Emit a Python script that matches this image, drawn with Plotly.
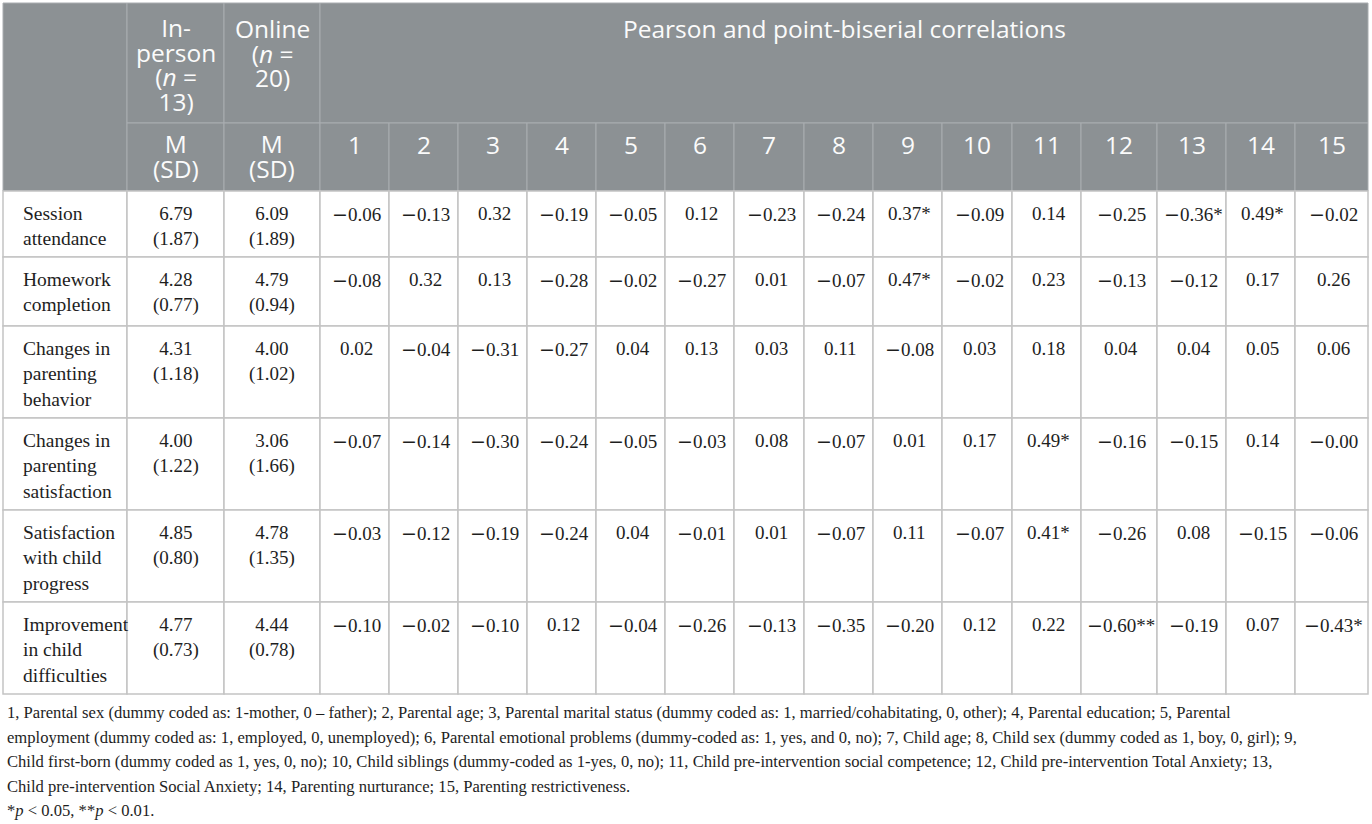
import plotly.graph_objects as go

outcomes = [
    "Session<br>attendance",
    "Homework<br>completion",
    "Changes in<br>parenting<br>behavior",
    "Changes in<br>parenting<br>satisfaction",
    "Satisfaction<br>with child<br>progress",
    "Improvement<br>in child<br>difficulties",
]
inperson_m = [6.79, 4.28, 4.31, 4.00, 4.85, 4.77]
inperson_sd = [1.87, 0.77, 1.18, 1.22, 0.80, 0.73]
online_m = [6.09, 4.79, 4.00, 3.06, 4.78, 4.44]
online_sd = [1.89, 0.94, 1.02, 1.66, 1.35, 0.78]

corr_labels = [str(i) for i in range(1, 16)]
corr = [
    [-0.06, -0.13, 0.32, -0.19, -0.05, 0.12, -0.23, -0.24, 0.37, -0.09, 0.14, -0.25, -0.36, 0.49, -0.02],
    [-0.08, 0.32, 0.13, -0.28, -0.02, -0.27, 0.01, -0.07, 0.47, -0.02, 0.23, -0.13, -0.12, 0.17, 0.26],
    [0.02, -0.04, -0.31, -0.27, 0.04, 0.13, 0.03, 0.11, -0.08, 0.03, 0.18, 0.04, 0.04, 0.05, 0.06],
    [-0.07, -0.14, -0.30, -0.24, -0.05, -0.03, 0.08, -0.07, 0.01, 0.17, 0.49, -0.16, -0.15, 0.14, -0.0],
    [-0.03, -0.12, -0.19, -0.24, 0.04, -0.01, 0.01, -0.07, 0.11, -0.07, 0.41, -0.26, 0.08, -0.15, -0.06],
    [-0.10, -0.02, -0.10, 0.12, -0.04, -0.26, -0.13, -0.35, -0.20, 0.12, 0.22, -0.60, -0.19, 0.07, -0.43],
]
# (row, column, mark)
signif = [(0, 8, "*"), (0, 12, "*"), (0, 13, "*"), (1, 8, "*"),
          (3, 10, "*"), (4, 10, "*"), (5, 11, "**"), (5, 14, "*")]

head_inperson = ["In-", "person", "(<i>n</i> =", "13)"]
head_online = ["Online", "(<i>n</i> =", "20)"]
head_corr = ["Pearson and point-biserial correlations"]
head_stat = ["M", "(SD)"]

notes = [
    "1, Parental sex (dummy coded as: 1-mother, 0 \u2013 father); 2, Parental age; 3, Parental marital status (dummy coded as: 1, married/cohabitating, 0, other); 4, Parental education; 5, Parental",
    "employment (dummy coded as: 1, employed, 0, unemployed); 6, Parental emotional problems (dummy-coded as: 1, yes, and 0, no); 7, Child age; 8, Child sex (dummy coded as 1, boy, 0, girl); 9,",
    "Child first-born (dummy coded as 1, yes, 0, no); 10, Child siblings (dummy-coded as 1-yes, 0, no); 11, Child pre-intervention social competence; 12, Child pre-intervention Total Anxiety; 13,",
    "Child pre-intervention Social Anxiety; 14, Parenting nurturance; 15, Parenting restrictiveness.",
    "*<i>p</i> < 0.05, **<i>p</i> < 0.01.",
]

# ---- layout (pixels) ----
W, H = 1372, 824
col_edges = [3, 127, 224, 320, 389, 458, 527, 596, 665, 734, 804, 873, 942,
             1012, 1081, 1157, 1226, 1295, 1368]
head_edges = [3, 123, 191]
row_edges = [191, 257, 326, 418, 510, 602, 694]
note_y = [701, 726, 750, 775, 799]
HEAD_LH = 24.5          # header leading is tighter than plotly's 1.3em
HEAD_SIZE = 24.5

HEAD_BG = "#8c9194"
HEAD_LINE = "#a9adb0"
BODY_LINE = "#c4c4c4"
TEXT = "#1e1e1e"
SANS = "Open Sans"
SERIF = "Liberation Serif"
MINUS = "<span style='font-family:DejaVu Serif'>\u2212</span>"


def fmt(v):
    s = f"{v:.2f}"
    return s.replace("-", MINUS)


shapes = []
annotations = []


def cell(x0, x1, y0, y1, fill, line, lw):
    shapes.append(dict(type="rect", xref="x", yref="y", x0=x0, x1=x1, y0=y0, y1=y1,
                       fillcolor=fill, line=dict(color=line, width=lw), layer="above"))


def text(x, y, s, font, anchor="center", size=19, color=TEXT, yanchor="top"):
    annotations.append(dict(x=x, y=y, xref="x", yref="y", text=s, showarrow=False,
                            xanchor=anchor, yanchor=yanchor, align=anchor,
                            font=dict(family=font, size=size, color=color)))


def head_block(xc, y_first, lines):
    # base size sets the line step, the span sets the glyph size
    body = "<br>".join(f"<span style='font-size:{HEAD_SIZE}px'>{s}</span>" for s in lines)
    yc = y_first + (len(lines) - 1) * HEAD_LH / 2
    text(xc, yc, body, SANS, size=HEAD_LH / 1.3, color="#fbfbfb", yanchor="middle")


# header
cell(col_edges[0], col_edges[1], head_edges[0], head_edges[2], HEAD_BG, HEAD_LINE, 1)
cell(col_edges[1], col_edges[2], head_edges[0], head_edges[1], HEAD_BG, HEAD_LINE, 1)
cell(col_edges[2], col_edges[3], head_edges[0], head_edges[1], HEAD_BG, HEAD_LINE, 1)
cell(col_edges[3], col_edges[-1], head_edges[0], head_edges[1], HEAD_BG, HEAD_LINE, 1)
for j in range(1, len(col_edges) - 1):
    cell(col_edges[j], col_edges[j + 1], head_edges[1], head_edges[2], HEAD_BG, HEAD_LINE, 1)

hy = head_edges[0] + 25
head_block((col_edges[1] + col_edges[2]) / 2, hy, head_inperson)
head_block((col_edges[2] + col_edges[3]) / 2, hy, head_online)
head_block((col_edges[3] + col_edges[-1]) / 2, hy, head_corr)
hy2 = head_edges[1] + 21
for j in range(2):
    head_block((col_edges[j + 1] + col_edges[j + 2]) / 2, hy2, head_stat)
for k, lab in enumerate(corr_labels):
    head_block((col_edges[k + 3] + col_edges[k + 4]) / 2, hy2, [lab])

# body
marks = {(r, c): m for r, c, m in signif}
for i, name in enumerate(outcomes):
    y0, y1 = row_edges[i], row_edges[i + 1]
    for j in range(len(col_edges) - 1):
        cell(col_edges[j], col_edges[j + 1], y0, y1, "white", BODY_LINE, 1.5)
    ty = y0 + 10
    text(col_edges[0] + 18, ty, name, SERIF, anchor="left", size=19.5)
    text((col_edges[1] + col_edges[2]) / 2, ty,
         f"{inperson_m[i]:.2f}<br>({inperson_sd[i]:.2f})", SERIF)
    text((col_edges[2] + col_edges[3]) / 2, ty,
         f"{online_m[i]:.2f}<br>({online_sd[i]:.2f})", SERIF)
    for k, v in enumerate(corr[i]):
        text((col_edges[k + 3] + col_edges[k + 4]) / 2 + 2, ty,
             fmt(v) + marks.get((i, k), ""), SERIF)

# footnotes
for line, y in zip(notes, note_y):
    text(5, y, line, SERIF, anchor="left", size=16.6)

fig = go.Figure(go.Scatter(x=[0], y=[0], mode="markers", marker=dict(opacity=0),
                           hoverinfo="skip", showlegend=False))
fig.update_layout(
    width=W, height=H,
    margin=dict(l=0, r=0, t=0, b=0),
    paper_bgcolor="white", plot_bgcolor="white",
    xaxis=dict(range=[0, W], visible=False, fixedrange=True),
    yaxis=dict(range=[H, 0], visible=False, fixedrange=True),
    shapes=shapes,
    annotations=annotations,
)
# the page body has a default 8px margin; drop it so pixels line up
fig.write_html("out.html", config={"displayModeBar": False},
               post_script="document.body.style.margin='0px';")
